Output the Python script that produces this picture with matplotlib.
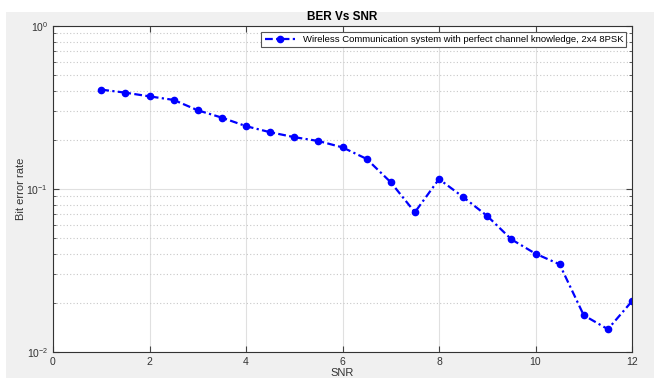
import numpy as np
import matplotlib.pyplot as plt
from matplotlib.patches import Rectangle
from matplotlib.ticker import LogLocator, NullFormatter

snr = [1, 1.5, 2, 2.5, 3, 3.5, 4, 4.5, 5, 5.5, 6, 6.5, 7, 7.5, 8, 8.5, 9, 9.5, 10, 10.5, 11, 11.5, 12]
ber = [0.407, 0.390, 0.370, 0.352, 0.304, 0.274, 0.243, 0.223, 0.208, 0.197, 0.180, 0.153,
       0.110, 0.072, 0.115, 0.0893, 0.0683, 0.0491, 0.0401, 0.0345, 0.0168, 0.0138, 0.0205]
xticks = [0, 2, 4, 6, 8, 10, 12]
label = 'Wireless Communication system with perfect channel knowledge, 2x4 8PSK'

plt.rcParams['font.family'] = 'Liberation Sans'

fig = plt.figure(figsize=(6.54, 3.78), dpi=100, facecolor='#f0f0f0')
# white strips at top and left of the screenshot
fig.patches.append(Rectangle((0, 1 - 12/378), 1, 12/378, transform=fig.transFigure,
                             facecolor='white', edgecolor='none', zorder=-1))
fig.patches.append(Rectangle((0, 0), 6/654, 1, transform=fig.transFigure,
                             facecolor='white', edgecolor='none', zorder=-1))

ax = fig.add_axes([53/654, 1 - 352/378, (632 - 53)/654, (352 - 26)/378])
line, = ax.semilogy(snr, ber, color='b', linestyle='-.', linewidth=1.6, marker='o',
                    markersize=4.5, label=label)
line.set_dashes([3.5, 1.5, 1, 1.5])

ax.set_xlim(0, 12)
ax.set_ylim(1e-2, 1)
ax.set_xticks(xticks)
ax.yaxis.set_minor_locator(LogLocator(base=10, subs=np.arange(2, 10)))
ax.yaxis.set_minor_formatter(NullFormatter())

ax.grid(True, which='major', color='#e0e0e0', linewidth=0.8, linestyle='-')
ax.grid(True, which='minor', axis='y', color='#c8c8c8', linewidth=0.8, linestyle=(0, (1, 2)))
ax.tick_params(which='both', direction='in', top=True, right=True, labelsize=7.5,
               colors='#444444', labelcolor='#333333')
ax.tick_params(which='major', length=4)
ax.tick_params(which='minor', length=2)
for s in ax.spines.values():
    s.set_color('#333333')
    s.set_linewidth(0.8)

ax.set_title('BER Vs SNR', fontsize=8.5, fontweight='bold', pad=4)
ax.set_xlabel('SNR', fontsize=8, color='#333333', labelpad=1)
ax.set_ylabel('Bit error rate', fontsize=8, color='#333333', labelpad=0.5)

leg = ax.legend(loc='upper right', fontsize=6.8, fancybox=False, framealpha=1,
                edgecolor='#555555', handlelength=3.2, borderpad=0.35,
                borderaxespad=0.6)
leg.get_frame().set_linewidth(0.8)

fig.savefig('out.png', dpi=100, facecolor=fig.get_facecolor())
